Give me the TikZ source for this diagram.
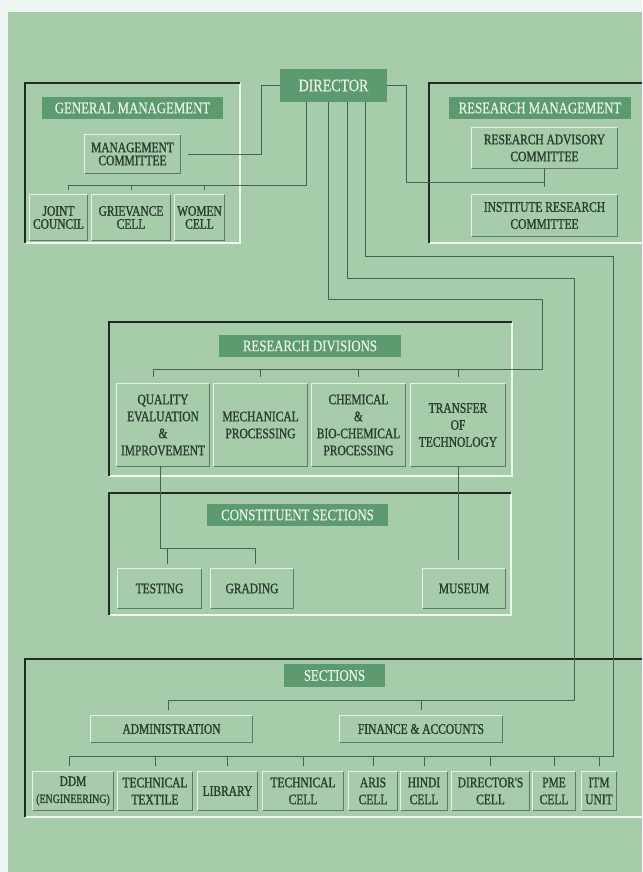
\documentclass[tikz,border=0pt]{standalone}
\usepackage{fontspec}
\setmainfont{Liberation Serif}[FakeStretch=0.8]
\newfontfamily\boxfam{Liberation Serif}[FakeStretch=0.79, FakeBold=1.2]
\newfontfamily\lblfam{Liberation Serif}[FakeStretch=0.8, FakeBold=0.5]
\definecolor{bgout}{HTML}{EEF6F2}
\definecolor{bggreen}{HTML}{A7CCA9}
\definecolor{lblfill}{HTML}{5C9A70}
\definecolor{lbltext}{HTML}{E8F3E6}
\definecolor{boxtext}{HTML}{2B3F31}
\definecolor{linec}{HTML}{466250}
\definecolor{framedark}{HTML}{1E2C22}
\definecolor{framelight}{HTML}{F0F8EE}
\definecolor{bevdark}{HTML}{5F7A64}
\definecolor{bevlight}{HTML}{E6F3E4}
\newcommand\lblfont{\lblfam\fontsize{16}{16}\selectfont}
\newcommand\dirfont{\lblfam\fontsize{17.5}{17.5}\selectfont}
\newcommand\bxfont{\boxfam\fontsize{14.5}{17}\selectfont}
\newcommand\bxtight{\boxfam\fontsize{14.5}{13}\selectfont}
\begin{document}
\begin{tikzpicture}[x=1pt,y=-1pt,
  lbl/.style={fill=lblfill, text=lbltext, inner sep=0pt, font=\lblfont},
  bx/.style={inner sep=0pt, align=center, text=boxtext, font=\bxfont},
  bxt/.style={bx, font=\bxtight},
  conn/.style={draw=linec, line width=1pt},
  fdark/.style={draw=framedark, line width=2pt},
  flight/.style={draw=framelight, line width=2pt}]
\useasboundingbox (0,0) rectangle (642,872);
\fill[bgout] (0,0) rectangle (642,872);
\fill[bggreen] (8,12) rectangle (642,872);

% ---------- frames ----------
\draw[flight] (240,83) -- (240,243) -- (25,243);
\draw[fdark] (25,243) -- (25,83) -- (240,83);
\draw[flight] (429,243) -- (642,243);
\draw[fdark] (429,243) -- (429,83) -- (642,83);
\draw[flight] (512,322) -- (512,476) -- (109,476);
\draw[fdark] (109,476) -- (109,322) -- (512,322);
\draw[flight] (511,493) -- (511,615) -- (109,615);
\draw[fdark] (109,615) -- (109,493) -- (511,493);
\draw[flight] (25,817) -- (642,817);
\draw[fdark] (25,817) -- (25,659) -- (642,659);

% ---------- labels ----------
\node[lbl, font=\dirfont, minimum width=107pt, minimum height=33pt] (dir) at (333.5,85.5) {DIRECTOR};
\node[lbl, minimum width=181pt, minimum height=22pt] (gml) at (132.5,108) {GENERAL MANAGEMENT};
\node[lbl, minimum width=182pt, minimum height=22pt] (rml) at (540,108) {RESEARCH MANAGEMENT};
\node[lbl, minimum width=182pt, minimum height=22pt] (rdl) at (310,346) {RESEARCH DIVISIONS};
\node[lbl, minimum width=181pt, minimum height=22pt] (csl) at (297.5,515) {CONSTITUENT SECTIONS};
\node[lbl, minimum width=101pt, minimum height=23pt] (secl) at (334.5,675.5) {SECTIONS};

% ---------- general management ----------
\node[bxt, minimum width=95pt, minimum height=38pt] (mc) at (132.5,154) {MANAGEMENT\\COMMITTEE};
\node[bxt, minimum width=57pt, minimum height=45pt] (jc) at (58.5,217.5) {JOINT\\COUNCIL};
\node[bxt, minimum width=78pt, minimum height=45pt] (gc) at (131,217.5) {GRIEVANCE\\CELL};
\node[bxt, minimum width=49pt, minimum height=45pt] (wc) at (199.5,217.5) {WOMEN\\CELL};

% ---------- research management ----------
\node[bx, minimum width=145pt, minimum height=40pt] (rac) at (544.5,148) {RESEARCH ADVISORY\\COMMITTEE};
\node[bx, minimum width=145pt, minimum height=41pt] (irc) at (544.5,215.5) {INSTITUTE RESEARCH\\COMMITTEE};

% ---------- research divisions ----------
\node[bx, minimum width=92pt, minimum height=82pt] (q) at (163,425) {QUALITY\\EVALUATION\\\&\\IMPROVEMENT};
\node[bx, minimum width=93pt, minimum height=82pt] (mech) at (260.5,425) {MECHANICAL\\PROCESSING};
\node[bx, minimum width=93pt, minimum height=82pt] (chem) at (358.5,425) {CHEMICAL\\\&\\BIO-CHEMICAL\\PROCESSING};
\node[bx, minimum width=94pt, minimum height=82pt] (tot) at (458,425) {TRANSFER\\OF\\TECHNOLOGY};

% ---------- constituent sections ----------
\node[bx, minimum width=83pt, minimum height=39pt] (test) at (159.5,588.5) {TESTING};
\node[bx, minimum width=82pt, minimum height=39pt] (grad) at (252,588.5) {GRADING};
\node[bx, minimum width=82pt, minimum height=39pt] (mus) at (464,588.5) {MUSEUM};

% ---------- sections ----------
\node[bx, minimum width=161pt, minimum height=26pt] (adm) at (171.5,729) {ADMINISTRATION};
\node[bx, minimum width=162pt, minimum height=26pt] (fin) at (421,729) {FINANCE \& ACCOUNTS};
\node[bx, minimum width=80pt, minimum height=38pt] (ddm) at (73,791) {DDM\\{\fontsize{12.5}{13}\selectfont (ENGINEERING)}};
\node[bx, minimum width=74pt, minimum height=38pt] (tt) at (155,791) {TECHNICAL\\TEXTILE};
\node[bx, minimum width=59pt, minimum height=38pt] (lib) at (227.5,791) {LIBRARY};
\node[bx, minimum width=80pt, minimum height=38pt] (tc) at (303,791) {TECHNICAL\\CELL};
\node[bx, minimum width=48pt, minimum height=38pt] (aris) at (373,791) {ARIS\\CELL};
\node[bx, minimum width=46pt, minimum height=38pt] (hindi) at (424,791) {HINDI\\CELL};
\node[bx, minimum width=77pt, minimum height=38pt] (dc) at (490.5,791) {DIRECTOR'S\\CELL};
\node[bx, minimum width=42pt, minimum height=38pt] (pme) at (554,791) {PME\\CELL};
\node[bx, minimum width=34pt, minimum height=38pt] (itm) at (599,791) {ITM\\UNIT};

% bevels
\foreach \n in {mc,jc,gc,wc,rac,irc,q,mech,chem,tot,test,grad,mus,adm,fin,ddm,tt,lib,tc,aris,hindi,dc,pme,itm}{
  \draw[bevlight, line width=1.3pt] (\n.south west) -- (\n.north west) -- (\n.north east);
  \draw[bevdark, line width=1.3pt] (\n.north east) -- (\n.south east) -- (\n.south west);
}

% ---------- connectors ----------
% Director -> Management Committee
\coordinate (jM) at (261,154);
\draw[conn, shorten >=8pt] (dir.west) -| (jM) -- (mc.east);
% Director -> GM cells
\coordinate (jA) at (306,185);
\coordinate (jAe) at (68,185);
\coordinate (jAw) at (204,185);
\draw[conn] (dir.south -| jA) -- (jA) -- (jAe);
\draw[conn] (jAe) -- ++(0,5);
\draw[conn] (gc.north |- jA) -- ++(0,5);
\draw[conn] (jAw) -- ++(0,5);
% Director -> Research management
\coordinate (jB) at (406,182);
\draw[conn] (dir.east) -| (jB) -- (jB -| rac.south);
\draw[conn] (rac.south) -- ++(0,19);
% Director -> Research divisions
\coordinate (jC1) at (328,299);
\coordinate (jC2) at (542,299);
\coordinate (jC3) at (542,369);
\coordinate (jC4) at (153,369);
\draw[conn] (dir.south -| jC1) -- (jC1) -- (jC2) -- (jC3) -- (jC4);
\draw[conn] (jC4) -- ++(0,8);
\foreach \n in {mech,chem,tot}{\draw[conn] (\n.north |- jC3) -- ++(0,8);}
% Director -> Sections
\coordinate (jD1) at (347,278);
\coordinate (jD2) at (574,278);
\coordinate (jD3) at (574,700);
\coordinate (jD4) at (168,700);
\draw[conn] (dir.south -| jD1) -- (jD1) -- (jD2) -- (jD3) -- (jD4);
\draw[conn] (jD4) -- ++(0,10);
\draw[conn] (fin.north |- jD3) -- ++(0,10);
% Director -> section cells
\coordinate (jE1) at (365,256);
\coordinate (jE2) at (613,256);
\coordinate (jE3) at (613,756);
\coordinate (jE4) at (69,756);
\draw[conn] (dir.south -| jE1) -- (jE1) -- (jE2) -- (jE3) -- (jE4);
\draw[conn] (jE4) -- ++(0,10);
\foreach \n in {tt,lib,tc,aris,hindi,dc,pme,itm}{\draw[conn] (\n.north |- jE3) -- ++(0,10);}
% Quality -> Testing, Grading
\coordinate (jF1) at (160,548);
\coordinate (jF2) at (255,548);
\coordinate (jF3) at (167,548);
\draw[conn] (q.south -| jF1) -- (jF1) -- (jF2) -- ++(0,16);
\draw[conn] (jF3) -- ++(0,16);
% Transfer -> Museum
\draw[conn, shorten >=9pt] (tot.south) -- (tot.south |- mus.north);
\end{tikzpicture}
\end{document}
